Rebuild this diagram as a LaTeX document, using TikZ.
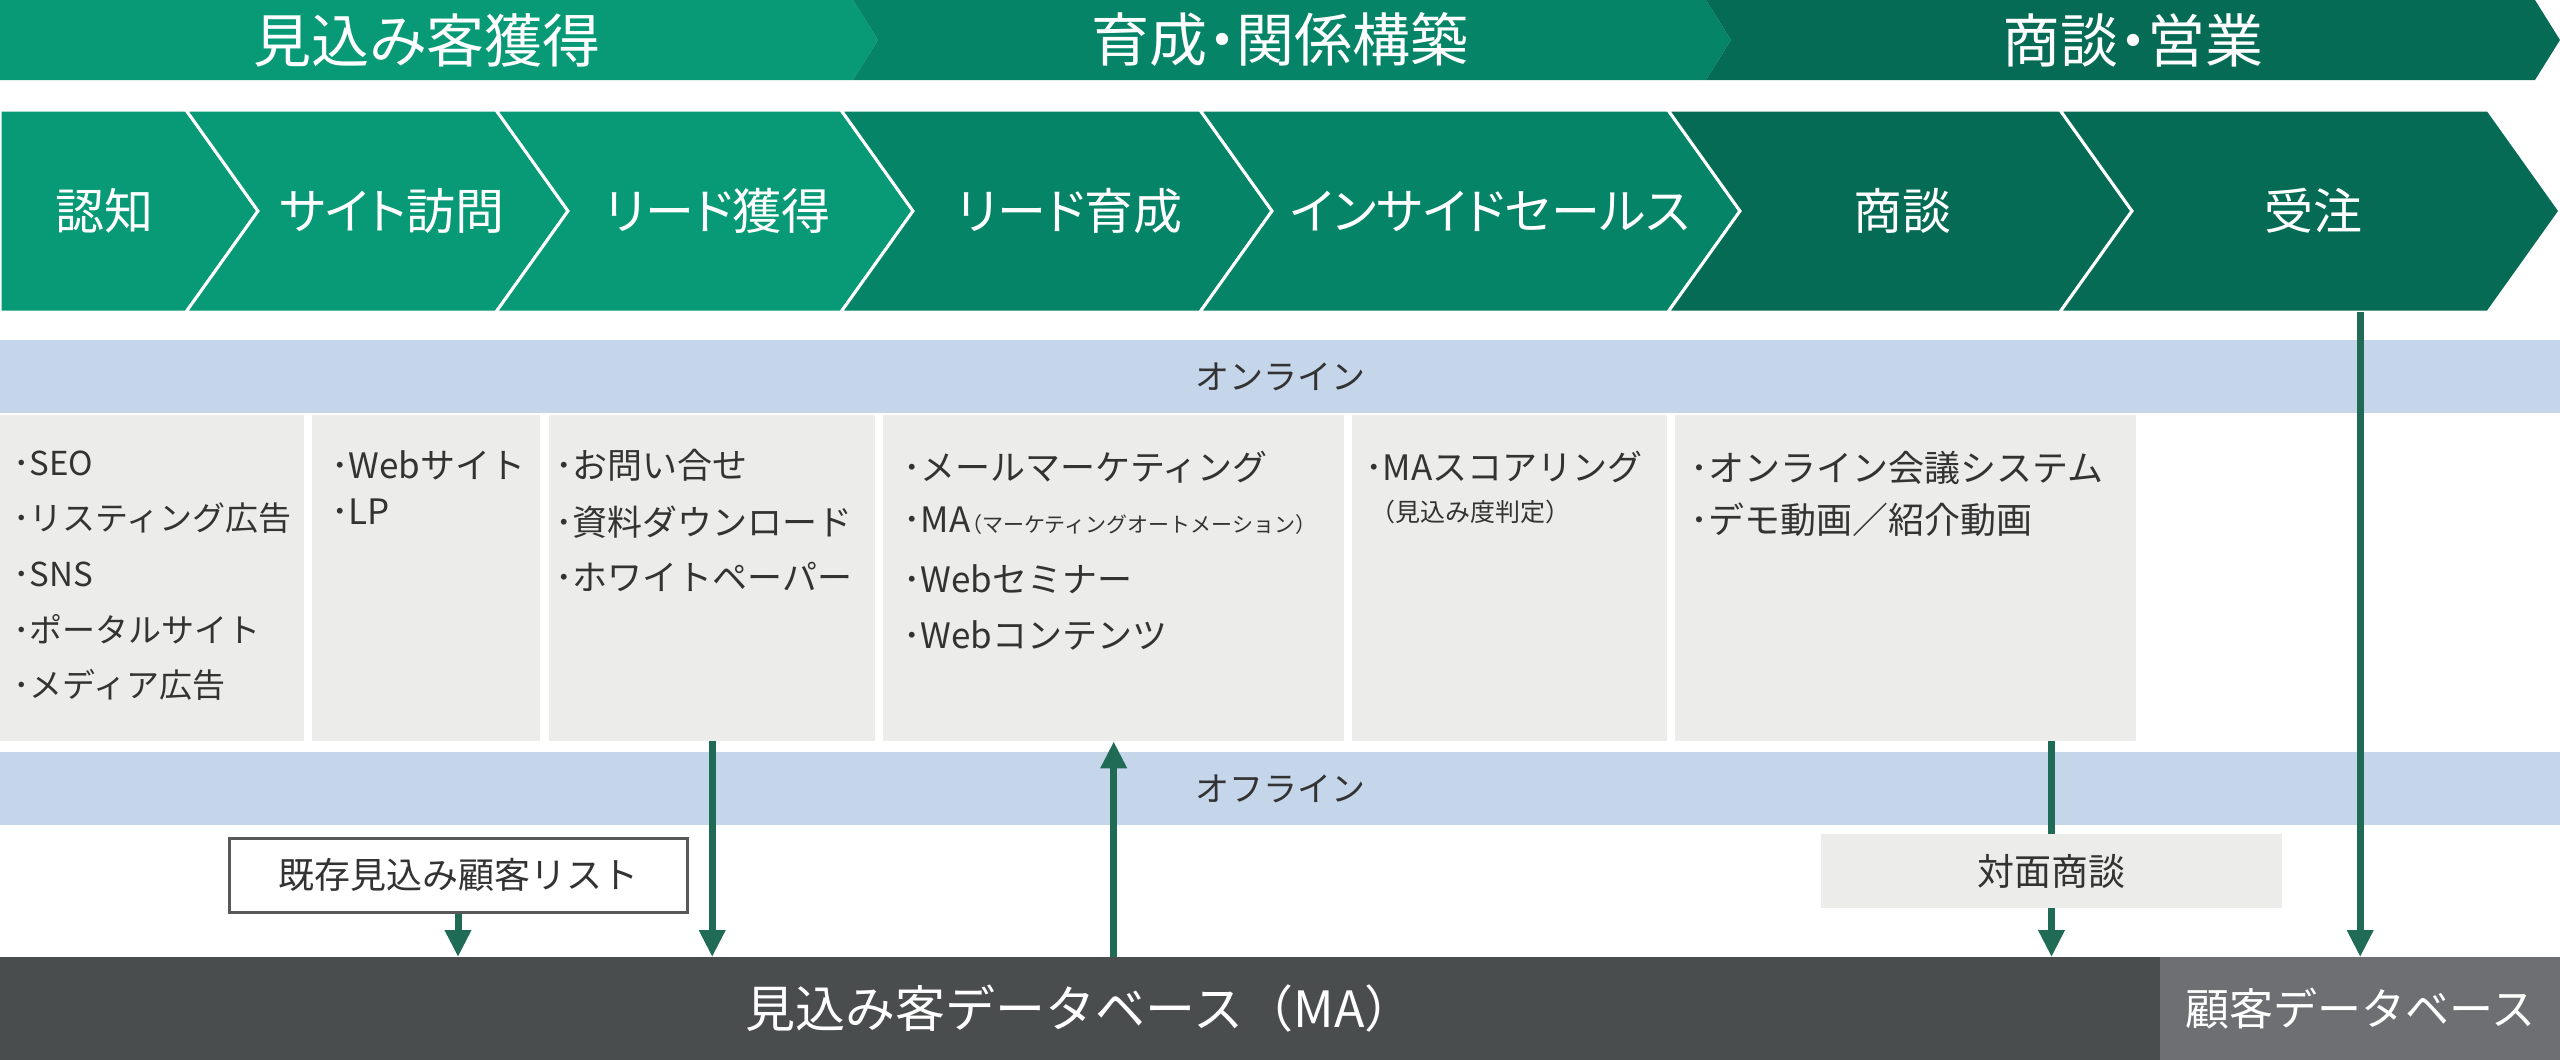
\documentclass[tikz,border=0pt]{standalone}
\usepackage{fontspec}
\newfontfamily\jp{Noto Sans CJK JP}
\newfontfamily\jpp[RawFeature=+palt]{Noto Sans CJK JP}
\usetikzlibrary{arrows.meta}
\definecolor{gA}{HTML}{089A76}
\definecolor{gB}{HTML}{058468}
\definecolor{gC}{HTML}{066B54}
\definecolor{bandblue}{HTML}{C5D5EA}
\definecolor{boxgray}{HTML}{ECEDEB}
\definecolor{txtgray}{HTML}{333333}
\definecolor{dbdark}{HTML}{4A4D4D}
\definecolor{dblight}{HTML}{6D6F72}
\definecolor{arrgreen}{HTML}{1F6B55}
\definecolor{boxline}{HTML}{58595B}
\newcommand\fs[1]{\fontsize{#1}{#1}\selectfont}
\begin{document}
\begin{tikzpicture}[x=1pt,y=-1pt,
  toplab/.style={text=white,inner sep=0pt,font={\jpp\fs{58}}},
  chevlab/.style={text=white,inner sep=0pt,font={\jpp\fs{49}}},
  chevshape/.style={draw=white,line width=3pt,line join=miter},
  bandlab/.style={text=txtgray,inner sep=0pt,font={\jp\fs{34}}},
  band/.style={fill=bandblue,inner sep=0pt,anchor=north west,minimum width=2560pt,minimum height=73pt},
  gbox/.style={fill=boxgray,inner sep=0pt,anchor=north west,minimum height=326pt},
  item/.style={text=txtgray,inner sep=0pt,anchor=west,font={\jp\fs{35}}},
  itemA/.style={item,font={\jp\fs{33}}},
  itemF/.style={item,font={\jp\fs{36}}},
  small/.style={item,font={\jp\fs{25}}},
  dbbox/.style={inner sep=0pt,anchor=north west,minimum height=103pt,text=white},
  arr/.style={draw=arrgreen,line width=7pt,-{Triangle[width=25pt,length=27pt]}},
  link/.style={draw=arrgreen,line width=7pt}]
\useasboundingbox (0,0) rectangle (2560,1060);

% phase band
\fill[gA] (0,0) -- (853,0) -- (878,40) -- (853,80) -- (0,80) -- cycle;
\fill[gB] (853,0) -- (1706,0) -- (1731,40) -- (1706,80) -- (853,80) -- (878,40) -- cycle;
\fill[gC] (1706,0) -- (2535,0) -- (2560,40) -- (2535,80) -- (1706,80) -- (1731,40) -- cycle;
\node[toplab] (ph1) at (427,40) {見込み客獲得};
\node[toplab] (ph2) at (1280,40) {育成・関係構築};
\node[toplab] (ph3) at (2133,40) {商談・営業};

% step chevrons
\filldraw[gA,chevshape] (0,110) -- (186,110) -- (258,211) -- (186,312) -- (0,312) -- cycle;
\filldraw[gA,chevshape] (186,110) -- (496,110) -- (568,211) -- (496,312) -- (186,312) -- (258,211) -- cycle;
\filldraw[gA,chevshape] (496,110) -- (841,110) -- (913,211) -- (841,312) -- (496,312) -- (568,211) -- cycle;
\filldraw[gB,chevshape] (841,110) -- (1200,110) -- (1272,211) -- (1200,312) -- (841,312) -- (913,211) -- cycle;
\filldraw[gB,chevshape] (1200,110) -- (1668,110) -- (1740,211) -- (1668,312) -- (1200,312) -- (1272,211) -- cycle;
\filldraw[gC,chevshape] (1668,110) -- (2060,110) -- (2132,211) -- (2060,312) -- (1668,312) -- (1740,211) -- cycle;
\filldraw[gC,chevshape] (2060,110) -- (2488,110) -- (2560,211) -- (2488,312) -- (2060,312) -- (2132,211) -- cycle;
\node[chevlab] (s1) at (104,211) {認知};
\node[chevlab] (s2) at (392,211) {サイト訪問};
\node[chevlab] (s3) at (718,211) {リード獲得};
\node[chevlab] (s4) at (1070,211) {リード育成};
\node[chevlab] (s5) at (1490,211) {インサイドセールス};
\node[chevlab] (s6) at (1902,211) {商談};
\node[chevlab] (s7) at (2313,211) {受注};
\coordinate (rowbot) at (2360,312);

% online band
\node[band] (onband) at (0,340) {};
\node[bandlab] (online) at (1280,377) {オンライン};

% columns
\node[gbox,minimum width=304pt] (col1) at (0,415) {};
\node[gbox,minimum width=228pt] (col2) at (312,415) {};
\node[gbox,minimum width=326pt] (col3) at (549,415) {};
\node[gbox,minimum width=461pt] (col4) at (883,415) {};
\node[gbox,minimum width=315pt] (col5) at (1352,415) {};
\node[gbox,minimum width=461pt] (col6) at (1675,415) {};

\node[itemA] (c1a) at (13,463) {･SEO};
\node[itemA] (c1b) at (13,518) {･リスティング広告};
\node[itemA] (c1c) at (13,574) {･SNS};
\node[itemA] (c1d) at (13,629) {･ポータルサイト};
\node[itemA] (c1e) at (13,685) {･メディア広告};

\node[item] (c2a) at (331,465) {･Webサイト};
\node[item] (c2b) at (331,512) {･LP};

\node[item] (c3a) at (555,465) {･お問い合せ};
\node[item] (c3b) at (555,522) {･資料ダウンロード};
\node[item] (c3c) at (555,577) {･ホワイトペーパー};

\node[item] (c4a) at (903,467) {･メールマーケティング};
\node[item] (c4b) at (903,521) {･MA\hspace{-9pt}{\fs{21}（マーケティングオートメーション）}};
\node[item] (c4c) at (903,579) {･Webセミナー};
\node[item] (c4d) at (903,635) {･Webコンテンツ};

\node[item] (c5a) at (1365,467) {･MAスコアリング};
\node[small] (c5b) at (1370,512) {（見込み度判定）};

\node[itemF] (c6a) at (1690,468) {･オンライン会議システム};
\node[itemF] (c6b) at (1690,520) {･デモ動画／紹介動画};

% offline band
\node[band] (offband) at (0,752) {};
\node[bandlab] (offline) at (1280,789) {オフライン};

\node[draw=boxline,line width=3pt,fill=white,inner sep=0pt,minimum width=458pt,minimum height=74pt,text=txtgray,font={\jp\fs{36}}] (kizon) at (458,875) {既存見込み顧客リスト};
\node[fill=boxgray,inner sep=0pt,minimum width=461pt,minimum height=74pt,text=txtgray,font={\jp\fs{37}}] (taimen) at (2051.5,871) {対面商談};

% databases
\node[dbbox,fill=dbdark,minimum width=2160pt,font={\jp\fs{50}}] (madb) at (0,957) {見込み客データベース（MA）};
\node[dbbox,fill=dblight,minimum width=400pt,font={\jp\fs{44}}] (kokdb) at (2160,957) {顧客データベース};

% connectors
\draw[arr] (kizon.south) -- (kizon.south |- madb.north);
\draw[arr] (col3.south) -- (col3.south |- madb.north);
\draw[arr] (col4.south |- madb.north) -- (col4.south);
\draw[link] (taimen.north |- col6.south) -- (taimen.north);
\draw[arr] (taimen.south) -- (taimen.south |- madb.north);
\draw[arr] (kokdb.north |- rowbot) -- (kokdb.north);
\end{tikzpicture}
\end{document}
